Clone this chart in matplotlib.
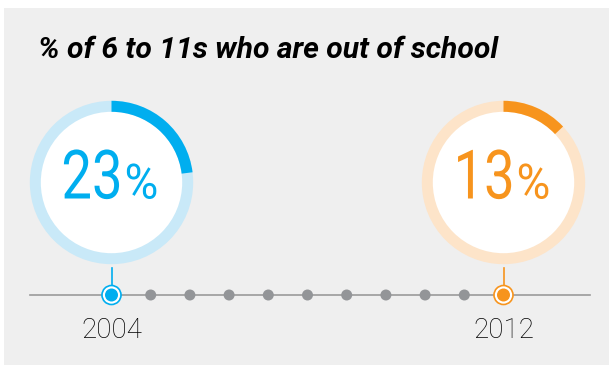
import matplotlib
matplotlib.use("Agg")
import matplotlib.pyplot as plt
from matplotlib.patches import Wedge, Circle, Rectangle
from matplotlib.patheffects import AbstractPathEffect
from matplotlib.transforms import Affine2D

# Data
title = "% of 6 to 11s who are out of school"
years = ["2004", "2012"]
values = [23, 13]
year_slots = [0, 10]          # position of each highlighted year on the timeline
n_slots = 11
main_colors = ["#00aeef", "#f7941d"]
light_colors = ["#c9e9f8", "#fde4c9"]

W, H = 609, 371
fig = plt.figure(figsize=(W / 100, H / 100), dpi=100)
fig.patch.set_facecolor("white")
ax = fig.add_axes([0, 0, 1, 1])
ax.set_xlim(0, W)
ax.set_ylim(H, 0)
ax.set_aspect("equal")
ax.axis("off")


class Condense(AbstractPathEffect):
    """Narrow the glyphs horizontally about a fixed anchor (condensed type)."""

    def __init__(self, anchor_xy, sx):
        super().__init__()
        self.anchor_xy = anchor_xy
        self.sx = sx

    def draw_path(self, renderer, gc, tpath, affine, rgbFace=None):
        px, py = ax.transData.transform(self.anchor_xy)
        squash = Affine2D().translate(-px, -py).scale(self.sx, 1).translate(px, py)
        renderer.draw_path(gc, tpath, affine + squash, rgbFace)


# grey panel
ax.add_patch(Rectangle((4, 8), W - 4, 357, facecolor="#efefef", edgecolor="none", zorder=0))

ax.text(38, 50, title, fontsize=21.7, fontweight="bold", fontstyle="italic",
        family="Roboto", color="black", ha="left", va="center")

# timeline
x0, step, ty = 111.5, 39.2, 295
ax.plot([30, 590], [ty, ty], color="#9a9a9a", lw=1.2, zorder=1)
for i in range(n_slots):
    if i in year_slots:
        continue
    ax.add_patch(Circle((x0 + i * step, ty), 5.5, facecolor="#939598", edgecolor="none", zorder=2))

cy, r_out, ring = 182.5, 81.7, 11
base = 198.5
for yr, val, slot, c, lc in zip(years, values, year_slots, main_colors, light_colors):
    cx = x0 + slot * step
    ax.add_patch(Circle((cx, cy), r_out, facecolor=lc, edgecolor="none", zorder=2))
    ax.add_patch(Circle((cx, cy), r_out - ring, facecolor="white", edgecolor="none", zorder=3))
    # value arc: clockwise from 12 o'clock (y axis is inverted, so angles run clockwise)
    ax.add_patch(Wedge((cx, cy), r_out, -90, -90 + 360 * val / 100, width=ring,
                       facecolor=c, edgecolor="none", zorder=4))
    # number and percent sign in condensed type
    ax.text(cx + 11, base, f"{val}", fontsize=49, family="Roboto",
            color=c, ha="right", va="baseline", zorder=5,
            path_effects=[Condense((cx + 11, base), 0.8)])
    ax.text(cx + 13, base, "%", fontsize=35, family="Roboto",
            color=c, ha="left", va="baseline", zorder=5,
            path_effects=[Condense((cx + 13, base), 0.95)])
    # stem and marker
    ax.plot([cx, cx], [cy + r_out + 4, ty - 9], color=c, lw=1.2, zorder=2)
    ax.add_patch(Circle((cx, ty), 9.5, facecolor="white", edgecolor=c, lw=1.2, zorder=5))
    ax.add_patch(Circle((cx, ty), 6.5, facecolor=c, edgecolor="none", zorder=6))
    ax.text(cx, 338, yr, fontsize=20, family="Roboto", fontweight="light",
            color="black", ha="center", va="baseline")

fig.savefig("out.png", dpi=100, facecolor="white")
